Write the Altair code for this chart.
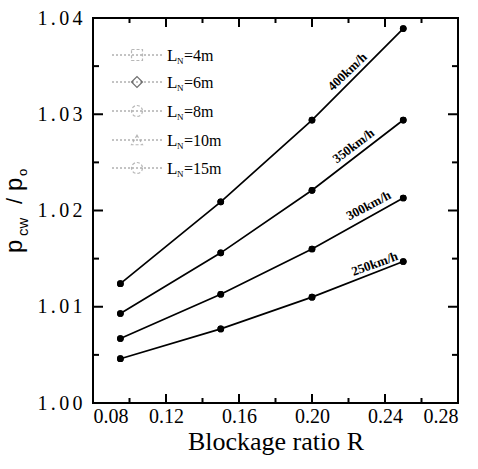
import altair as alt
import pandas as pd

# ---- data ----
ratio = [0.095, 0.15, 0.20, 0.25]
speeds = ["400km/h", "350km/h", "300km/h", "250km/h"]
p400 = [1.0124, 1.0209, 1.0294, 1.0389]
p350 = [1.0093, 1.0156, 1.0221, 1.0294]
p300 = [1.0067, 1.0113, 1.0160, 1.0213]
p250 = [1.0046, 1.0077, 1.0110, 1.0147]
lengths = ["4m", "6m", "8m", "10m", "15m"]
shapes = ["square", "diamond", "circle", "triangle-up", "circle"]
msizes = [22, 28, 45, 25, 45]

label_x = [0.2194, 0.2228, 0.2311, 0.2344]
label_y = [1.0344, 1.0267, 1.0205, 1.01444]
label_angle = [316, 323, 332, 340]

x_major = [0.08, 0.12, 0.16, 0.20, 0.24, 0.28]
x_minor = [0.10, 0.14, 0.18, 0.22, 0.26]
y_major = [1.00, 1.01, 1.02, 1.03, 1.04]
y_minor = [1.005, 1.015, 1.025, 1.035]

W, H = 365, 385
SERIF = "Liberation Serif"
SANS = "Liberation Sans"
SPACED = "join(split(datum.label, ''), '\u2006')"

rows = []
for s, vals in zip(speeds, [p400, p350, p300, p250]):
    for r, v in zip(ratio, vals):
        rows.append({"speed": s, "R": r, "p": v})
df = pd.DataFrame(rows)

xs = alt.Scale(domain=[0.08, 0.28], nice=False, zero=False)
ys = alt.Scale(domain=[1.00, 1.04], nice=False, zero=False)

base = alt.Chart(df)
lines = base.mark_line(color="black", strokeWidth=1.7).encode(
    x=alt.X("R:Q", scale=xs,
            axis=alt.Axis(values=x_major, format=".2f", ticks=False, domain=False,
                          grid=False, labelFont=SERIF, labelFontSize=20, labelColor="black",
                          labelPadding=3, title="Blockage ratio R", titleFont=SERIF, titleFontSize=26,
                          titleFontWeight="normal", titleColor="black", titlePadding=2)),
    y=alt.Y("p:Q", scale=ys,
            axis=alt.Axis(values=y_major, format=".2f", labelExpr=SPACED, ticks=False, domain=False,
                          grid=False, labelFont=SERIF, labelFontSize=20, labelColor="black",
                          labelPadding=11, title=None)),
    detail="speed:N",
)

layers = [lines]
for shp, ms in zip(shapes, msizes):
    layers.append(base.mark_point(shape=shp, filled=True, color="black", size=ms, opacity=1).encode(
        x=alt.X("R:Q", scale=xs), y=alt.Y("p:Q", scale=ys)))

lab_df = pd.DataFrame({"t": speeds, "x": label_x, "y": label_y})
for i in range(len(speeds)):
    layers.append(alt.Chart(lab_df.iloc[[i]]).mark_text(
        font=SERIF, fontSize=13, fontWeight="bold", color="black", angle=label_angle[i],
        align="center", baseline="middle").encode(
        x=alt.X("x:Q", scale=xs), y=alt.Y("y:Q", scale=ys), text="t:N"))

# ticks (inward, all four sides)
def xticks(vals, ln):
    d = pd.DataFrame({"v": vals})
    b = alt.Chart(d).mark_rule(color="black", strokeWidth=2).encode(
        x=alt.X("v:Q", scale=xs), y=alt.value(H), y2=alt.value(H - ln))
    t = alt.Chart(d).mark_rule(color="black", strokeWidth=2).encode(
        x=alt.X("v:Q", scale=xs), y=alt.value(0), y2=alt.value(ln))
    return [b, t]

def yticks(vals, ln):
    d = pd.DataFrame({"v": vals})
    l = alt.Chart(d).mark_rule(color="black", strokeWidth=2).encode(
        y=alt.Y("v:Q", scale=ys), x=alt.value(0), x2=alt.value(ln))
    r = alt.Chart(d).mark_rule(color="black", strokeWidth=2).encode(
        y=alt.Y("v:Q", scale=ys), x=alt.value(W), x2=alt.value(W - ln))
    return [l, r]

layers += xticks(x_major[1:-1], 9) + xticks(x_minor, 5)
layers += yticks(y_major[1:-1], 10) + yticks(y_minor, 6)

# y-axis title  p_cw / p_o  (rotated)
one = pd.DataFrame({"k": [0]})
def ytxt(t, px, py, size):
    return alt.Chart(one).mark_text(text=t, font=SANS, fontSize=size, angle=270, align="left",
                                    baseline="alphabetic", color="black").encode(
        x=alt.value(px - 93), y=alt.value(py - 18))
layers += [ytxt("p", 22, 253, 24), ytxt("cw", 28, 236, 15), ytxt("/", 22, 204, 22),
           ytxt("p", 22, 191, 24), ytxt("o", 27, 176, 13)]

# legend
leg_rows = [55, 82, 111, 140, 168]
for i, (ln, shp) in enumerate(zip(lengths, shapes)):
    yy = leg_rows[i] - 18
    layers.append(alt.Chart(one).mark_rule(color="#888888", strokeWidth=1, strokeDash=[2, 2]).encode(
        x=alt.value(112 - 93), x2=alt.value(162 - 93), y=alt.value(yy)))
    layers.append(alt.Chart(one).mark_point(shape=shp, filled=False,
                                             color="#333333" if i == 1 else "#999999",
                                             strokeWidth=1.2, strokeDash=[0] if i == 1 else [3, 2],
                                             size=120).encode(
        x=alt.value(137 - 93), y=alt.value(yy)))
    layers.append(alt.Chart(one).mark_text(text="L", font=SERIF, fontSize=17, align="left",
                                            baseline="alphabetic", color="black").encode(
        x=alt.value(167 - 93), y=alt.value(yy + 6)))
    layers.append(alt.Chart(one).mark_text(text="N", font=SERIF, fontSize=9, align="left",
                                            baseline="alphabetic", color="black").encode(
        x=alt.value(177 - 93), y=alt.value(yy + 9)))
    layers.append(alt.Chart(one).mark_text(text="=" + ln, font=SERIF, fontSize=16, align="left",
                                            baseline="alphabetic", color="black").encode(
        x=alt.value(184 - 93), y=alt.value(yy + 6)))

chart = alt.layer(*layers).properties(
    width=W, height=H,
    autosize=alt.AutoSizeParams(type="none"),
    padding={"left": 93, "top": 18, "right": 20, "bottom": 66},
    background="white",
).configure_view(stroke="black", strokeWidth=2)

chart.save("out.html", embed_options={"renderer": "svg", "actions": False})
